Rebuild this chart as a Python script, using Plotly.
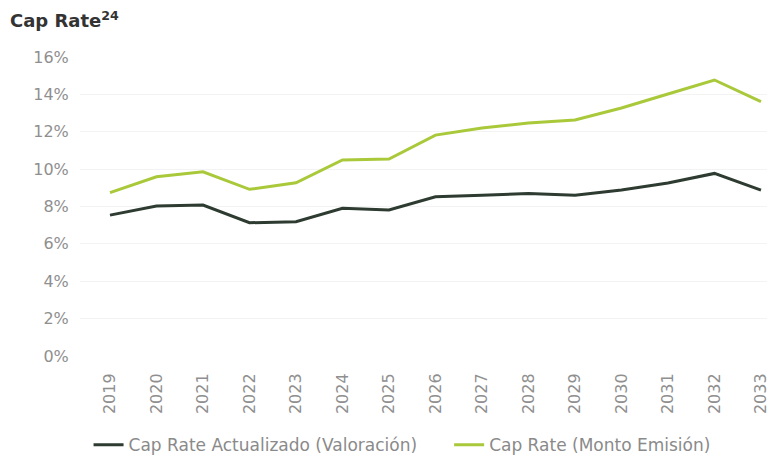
import plotly.graph_objects as go

years = [str(y) for y in range(2019, 2034)]
cap_rate_actualizado = [7.54, 8.03, 8.08, 7.13, 7.19, 7.9, 7.81, 8.52, 8.6, 8.7, 8.6, 8.88, 9.26, 9.77, 8.88]
cap_rate_emision = [8.74, 9.59, 9.86, 8.92, 9.27, 10.49, 10.54, 11.82, 12.2, 12.47, 12.63, 13.27, 14.02, 14.77, 13.61]
y_ticks = [0, 2, 4, 6, 8, 10, 12, 14, 16]
y_tick_labels = [f"{v}%" for v in y_ticks]
series_names = ["Cap Rate Actualizado (Valoración)" + "\u00a0" * 5, "Cap Rate (Monto Emisión)"]

fig = go.Figure()
fig.add_trace(go.Scatter(x=years, y=cap_rate_actualizado, mode="lines",
                         name=series_names[0],
                         line=dict(color="#2d3b31", width=3)))
fig.add_trace(go.Scatter(x=years, y=cap_rate_emision, mode="lines",
                         name=series_names[1],
                         line=dict(color="#a9c93a", width=3)))

fig.update_layout(
    width=770, height=457,
    paper_bgcolor="white", plot_bgcolor="white",
    margin=dict(l=80, r=3, t=57, b=101),
    font=dict(family="DejaVu Sans", color="#8f8f8f", size=16),
    title=dict(text="<b>Cap Rate<sup>24</sup></b>", x=0.013, xanchor="left", y=0.954, yanchor="middle",
               font=dict(size=18, color="#333333", family="DejaVu Sans")),
    legend=dict(orientation="h", xref="container", yref="container",
                x=0.115, xanchor="left", y=0.026, yanchor="middle",
                font=dict(size=17, color="#8a8a8a"), tracegroupgap=0),
    showlegend=True,
)
fig.update_xaxes(type="category", range=[-0.645, 14.13], tickangle=-90, automargin=False,
                 showgrid=False, zeroline=False, showline=False,
                 ticks="outside", ticklen=10, tickcolor="white",
                 tickfont=dict(size=16, color="#8f8f8f"))
fig.update_yaxes(range=[0, 16], tickvals=y_ticks, ticktext=y_tick_labels, automargin=False,
                 showgrid=True, gridcolor="#f3f3f3", zeroline=False, showline=False,
                 ticks="outside", ticklen=7, tickcolor="white",
                 tickfont=dict(size=16, color="#8f8f8f"))

fig.write_html("out.html", config={"displayModeBar": False},
               post_script="document.body.style.margin='0px';")
